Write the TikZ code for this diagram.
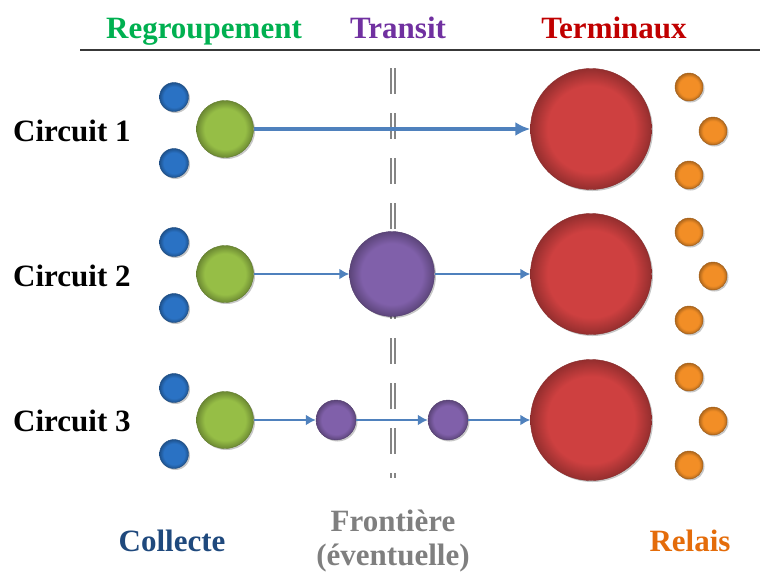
\documentclass[tikz,border=0pt]{standalone}
\usepackage{fontspec}
\setmainfont{Liberation Serif}
\usetikzlibrary{arrows.meta,shadows}

\definecolor{hdrgreen}{RGB}{0,176,80}
\definecolor{hdrpurple}{RGB}{112,48,160}
\definecolor{hdrred}{RGB}{192,0,0}
\definecolor{collblue}{RGB}{31,73,125}
\definecolor{frontgray}{RGB}{127,127,127}
\definecolor{relaisorange}{RGB}{228,108,10}
\definecolor{ballblue}{RGB}{42,114,196}
\definecolor{ballgreen}{RGB}{150,190,70}
\definecolor{ballpurple}{RGB}{128,96,170}
\definecolor{ballred}{RGB}{206,64,64}
\definecolor{ballorange}{RGB}{242,142,38}
\definecolor{arrowblue}{RGB}{79,129,189}

\colorlet{ballbase}{black}
\colorlet{balledge}{black}
\pgfdeclareradialshading[ballbase,balledge]{bevel}{\pgfpoint{0bp}{0bp}}{color(0bp)=(ballbase); color(18bp)=(ballbase); color(25bp)=(balledge); color(50bp)=(balledge)}

\begin{document}
\begin{tikzpicture}[x=1pt, y=-1pt,
    ball/.style={circle, inner sep=0pt, draw=#1!65!black, line width=0.4pt,
        /utils/exec={\colorlet{ballbase}{#1}\colorlet{balledge}{#1!72!black}},
        shade, shading=bevel,
        drop shadow={shadow xshift=1.5pt, shadow yshift=-1.5pt, opacity=0.22, fill=black}},
    collecte/.style={ball=ballblue, minimum size=29pt},
    regroup/.style={ball=ballgreen, minimum size=57pt},
    transit/.style={ball=ballpurple, minimum size=#1},
    terminal/.style={ball=ballred, minimum size=121pt},
    relais/.style={ball=ballorange, minimum size=28pt},
    flow/.style={draw=arrowblue, line width=2.5pt, -{Latex[length=10pt,width=11pt]}},
    mainflow/.style={flow, line width=4pt, -{Latex[length=15pt,width=14pt]}},
    txt/.style={font=\bfseries\fontsize{31}{34}\selectfont, inner sep=0pt}]
    \useasboundingbox (0,0) rectangle (760,574);

    % Define coordinates
    \coordinate (HL) at (80,50);
    \coordinate (HR) at (760,50);
    \coordinate (BT) at (393,68);
    \coordinate (BB) at (393,478);

    % Header
    \draw[line width=2.5pt, draw=black!78] (HL) -- (HR);
    \node[txt, text=hdrgreen, anchor=base] (hreg) at (204,38) {Regroupement};
    \node[txt, text=hdrpurple, anchor=base] (htra) at (398,38) {Transit};
    \node[txt, text=hdrred, anchor=base] (hter) at (614,38) {Terminaux};

    % Boundary
    \draw[draw=black!48, line width=1.7pt, double=white, double distance=1.8pt,
        dash pattern=on 26pt off 19pt] (BT) -- (BB);

    % Row labels
    \node[txt, anchor=base west] (c1) at (13,141) {Circuit 1};
    \node[txt, anchor=base west] (c2) at (13,286) {Circuit 2};
    \node[txt, anchor=base west] (c3) at (13,431) {Circuit 3};

    % Circuit 1
    \node[collecte] (a1) at (174,97) {};
    \node[collecte] (b1) at (174,163) {};
    \node[regroup] (g1) at (225,129) {};
    \node[terminal] (t1) at (591,129) {};
    \node[relais] (r1a) at (689,87) {};
    \node[relais] (r1b) at (713,131) {};
    \node[relais] (r1c) at (689,175) {};
    \draw[mainflow] (g1) -- (t1);

    % Circuit 2
    \node[collecte] (a2) at (174,242) {};
    \node[collecte] (b2) at (174,308) {};
    \node[regroup] (g2) at (225,274) {};
    \node[transit=85pt] (p2) at (392,274) {};
    \node[terminal] (t2) at (591,274) {};
    \node[relais] (r2a) at (689,232) {};
    \node[relais] (r2b) at (713,276) {};
    \node[relais] (r2c) at (689,320) {};
    \draw[flow] (g2) -- (p2);
    \draw[flow] (p2) -- (t2);

    % Circuit 3
    \node[collecte] (a3) at (174,388) {};
    \node[collecte] (b3) at (174,454) {};
    \node[regroup] (g3) at (225,420) {};
    \node[transit=40pt] (p3a) at (336,420) {};
    \node[transit=40pt] (p3b) at (448,420) {};
    \node[terminal] (t3) at (591,420) {};
    \node[relais] (r3a) at (689,377) {};
    \node[relais] (r3b) at (713,421) {};
    \node[relais] (r3c) at (689,465) {};
    \draw[flow] (g3) -- (p3a);
    \draw[flow] (p3a) -- (p3b);
    \draw[flow] (p3b) -- (t3);

    % Bottom labels
    \node[txt, text=collblue, anchor=base] (lcol) at (172,551) {Collecte};
    \node[txt, text=frontgray, align=center] (lfro) at (393,541) {Frontière\\(éventuelle)};
    \node[txt, text=relaisorange, anchor=base] (lrel) at (690,551) {Relais};
\end{tikzpicture}
\end{document}
